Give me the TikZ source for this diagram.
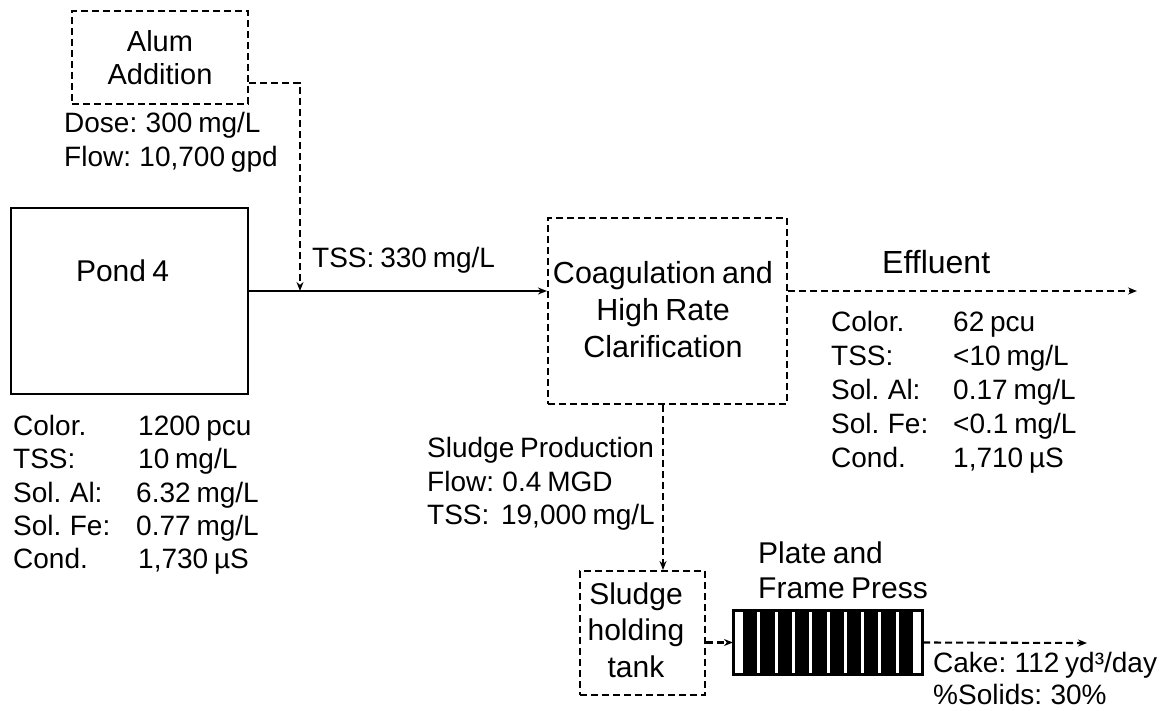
\documentclass[tikz,border=0pt]{standalone}
\usepackage{fontspec}
\setmainfont{Liberation Sans}[Ligatures=NoCommon, WordSpace=0.75]
\usetikzlibrary{arrows.meta}
\tikzset{
  dashline/.style={line width=2.1pt, dash pattern=on 7pt off 4pt},
  solidline/.style={line width=2.1pt},
  tip/.style={-{Stealth[length=9pt,width=7pt]}},
  dbox/.style={dashline, draw, rectangle, inner sep=0pt},
  sbox/.style={solidline, draw, rectangle, inner sep=0pt},
  boxtxt/.style={font=\fontsize{30}{36}\selectfont, align=center},
  datatxt/.style={font=\fontsize{28}{33}\selectfont, inner sep=0pt, anchor=base west},
  bigtxt/.style={font=\fontsize{31}{36}\selectfont, inner sep=0pt, anchor=base west}
}
\begin{document}
\begin{tikzpicture}[x=1pt,y=-1pt]
\useasboundingbox (0,0) rectangle (1172,711);

% boxes
\node[dbox, minimum width=176pt, minimum height=93pt, boxtxt, font=\fontsize{29}{33}\selectfont] (alum) at (160,57.5) {Alum\\Addition};
\node[sbox, minimum width=237pt, minimum height=186pt] (pond) at (129.5,301) {};
\node[bigtxt, font=\fontsize{30}{36}\selectfont, anchor=base] (pondtxt) at (122.5,282) {Pond 4};
\node[dbox, minimum width=239pt, minimum height=186pt] (coag) at (667.5,311) {};
\node[boxtxt, font=\fontsize{30.5}{37}\selectfont, inner sep=0pt] (coagtxt) at (663,310) {Coagulation and\\High Rate\\Clarification};
\node[dbox, minimum width=125pt, minimum height=124pt] (tank) at (642.5,633) {};
\node[boxtxt, font=\fontsize{30}{36.5}\selectfont, inner sep=0pt] (tanktxt) at (636,630) {Sludge\\holding\\tank};
\node[sbox, fill=white, minimum width=188pt, minimum height=63pt] (press) at (828,642.5) {};
\foreach \i in {0,...,9} \fill[black] (743+\i*17.3,611) rectangle ++(14.3,63);
\draw[solidline] (press.north west) rectangle (press.south east);

% coordinates
\coordinate (join) at (300,291);
\coordinate (sx) at (663,0);
\coordinate (effend) at (1137,291);
\coordinate (cakeend) at (1087,643);

% connectors
\draw[dashline, tip] ([yshift=-25.5pt]alum.east) -| (join);
\draw[solidline, tip] (pond.east |- join) -- (coag.west |- join);
\draw[dashline, tip] (coag.east |- effend) -- (effend);
\draw[dashline, tip] (coag.south -| sx) -- (tank.north -| sx);
\draw[dashline, tip] (tank.east |- press.west) -- (press.west);
\draw[dashline, tip] (press.east) -- (cakeend);

% labels
\node[datatxt] (dose) at (64,133) {Dose: 300 mg/L};
\node[datatxt] (aflow) at (64,167) {Flow: 10,700 gpd};
\node[datatxt] (tss1) at (312,268) {TSS: 330 mg/L};
\node[bigtxt, font=\fontsize{32}{36}\selectfont] (eff) at (882,274) {Effluent};

% pond data
\node[datatxt] (pl1) at (13,435) {Color.};
\node[datatxt] (pl2) at (13,468) {TSS:};
\node[datatxt] (pl3) at (13,502) {Sol. Al:};
\node[datatxt] (pl4) at (13,535) {Sol. Fe:};
\node[datatxt] (pl5) at (13,568) {Cond.};
\node[datatxt] (pv1) at (138,435) {1200 pcu};
\node[datatxt] (pv2) at (138,468) {10 mg/L};
\node[datatxt] (pv3) at (136,502) {6.32 mg/L};
\node[datatxt] (pv4) at (136,535) {0.77 mg/L};
\node[datatxt] (pv5) at (138,568) {1,730 µS};

% effluent data
\node[datatxt] (el1) at (831,331) {Color.};
\node[datatxt] (el2) at (831,365) {TSS:};
\node[datatxt] (el3) at (831,399) {Sol. Al:};
\node[datatxt] (el4) at (831,433) {Sol. Fe:};
\node[datatxt] (el5) at (831,467) {Cond.};
\node[datatxt] (ev1) at (953,331) {62 pcu};
\node[datatxt] (ev2) at (953,365) {<10 mg/L};
\node[datatxt] (ev3) at (953,399) {0.17 mg/L};
\node[datatxt] (ev4) at (953,433) {<0.1 mg/L};
\node[datatxt] (ev5) at (953,467) {1,710 µS};

% sludge data
\node[datatxt] (sp1) at (427,457) {Sludge Production};
\node[datatxt] (sp2) at (427,491) {Flow: 0.4 MGD};
\node[datatxt] (sp3) at (427,524) {TSS:\ \ 19,000 mg/L};

% press labels
\node[bigtxt, font=\fontsize{30}{35}\selectfont] (pr1) at (758,563) {Plate and};
\node[bigtxt, font=\fontsize{30}{35}\selectfont] (pr2) at (758,598) {Frame Press};
\node[datatxt] (ck1) at (933,672) {Cake: 112 yd³/day};
\node[datatxt] (ck2) at (933,704) {\%Solids: 30\%};
\end{tikzpicture}
\end{document}
